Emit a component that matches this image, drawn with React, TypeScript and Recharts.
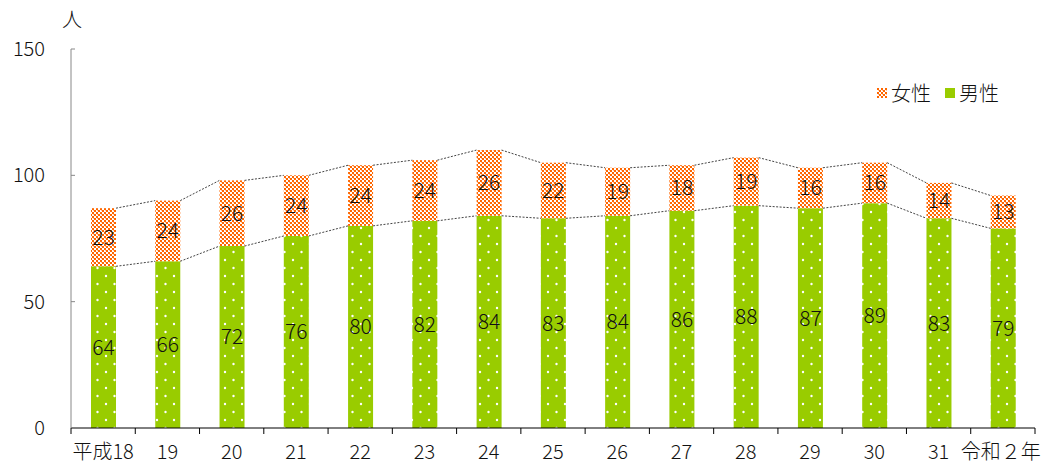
import React from "react";
import { BarChart, Bar, XAxis, YAxis, LabelList, Legend } from "recharts";

const years = ["平成18", "19", "20", "21", "22", "23", "24", "25", "26", "27", "28", "29", "30", "31", "令和２年"];
const male = [64, 66, 72, 76, 80, 82, 84, 83, 84, 86, 88, 87, 89, 83, 79];
const female = [23, 24, 26, 24, 24, 24, 26, 22, 19, 18, 19, 16, 16, 14, 13];
const yTicks = [0, 50, 100, 150];

const W = 1043;
const H = 465;
const MARGIN = { top: 49, right: 8, bottom: 7, left: 0 };
const Y_AXIS_W = 71;
const X_AXIS_H = 30;
const PLOT_W = W - MARGIN.left - MARGIN.right - Y_AXIS_W;
const STEP = PLOT_W / years.length;

const FONT = '"Noto Sans CJK JP", "Noto Sans", sans-serif';
const ORANGE = "#FF6600";
const GREEN = "#99CC00";
const TEXT = "#111";

const data = years.map((year, i) => ({ year, male: male[i], female: female[i] }));

// female bar + the dotted "series lines" to the next bar (like Excel)
const FemaleShape = (props: any) => {
  const { x, y, width, height, index } = props;
  const ppu = height / female[index];
  const base = y + height + male[index] * ppu;
  const next = index + 1;
  return (
    <g>
      <rect x={x} y={y} width={width} height={height} fill="url(#femalePat)" />
      {next < years.length && (
        <g stroke="#444" strokeWidth={1} strokeDasharray="2 1.5" fill="none">
          <line x1={x + width} y1={y} x2={x + STEP} y2={base - (male[next] + female[next]) * ppu} />
          <line x1={x + width} y1={y + height} x2={x + STEP} y2={base - male[next] * ppu} />
        </g>
      )}
    </g>
  );
};

const XTick = (props: any) => {
  const { x, y, payload, index } = props;
  const left = x - STEP / 2;
  return (
    <g>
      <line x1={left} y1={y} x2={left} y2={y + 6} stroke="#000" />
      {index === years.length - 1 && (
        <line x1={x + STEP / 2} y1={y} x2={x + STEP / 2} y2={y + 6} stroke="#000" />
      )}
      <text x={x - (index === years.length - 1 ? 2 : 0)} y={y + 31} textAnchor="middle" fontSize={20} fontWeight={300} fontFamily={FONT} fill={TEXT}>
        {payload.value}
      </text>
    </g>
  );
};

const YTick = (props: any) => {
  const { x, y, payload } = props;
  return (
    <g>
      {payload.value !== 0 && <line x1={x + 26} y1={y} x2={x + 30} y2={y} stroke="#888" />}
      <text x={x} y={y + 7} textAnchor="end" fontSize={20} fontWeight={300} fontFamily={FONT} fill={TEXT}>
        {payload.value}
      </text>
    </g>
  );
};

const LegendBox = () => (
  <div style={{ display: "flex", alignItems: "center", fontFamily: FONT, fontSize: 20, fontWeight: 300, color: TEXT }}>
    <svg width={10} height={10} style={{ marginRight: 4 }}>
      <rect x={0} y={0} width={10} height={10} fill="url(#femalePat)" />
    </svg>
    <span style={{ marginRight: 14 }}>女性</span>
    <svg width={10} height={10} style={{ marginRight: 4 }}>
      <rect x={0} y={0} width={10} height={10} fill={GREEN} />
    </svg>
    <span>男性</span>
  </div>
);

const UnitLabel = (props: any) => {
  const { viewBox } = props;
  return (
    <text x={viewBox.x + viewBox.width + 1} y={viewBox.y - 22} textAnchor="middle" fontSize={20} fontWeight={300} fontFamily={FONT} fill={TEXT}>
      人
    </text>
  );
};

export default function App() {
  return (
    <div style={{ position: "absolute", left: 0, top: 0, width: W, height: H, background: "#fff" }}>
      <svg width={0} height={0} style={{ position: "absolute" }}>
        <defs>
          <pattern id="femalePat" width={4} height={4} patternUnits="userSpaceOnUse">
            <rect width={4} height={4} fill="#fff" />
            <rect x={0} y={0} width={2} height={2} fill={ORANGE} />
            <rect x={2} y={2} width={2} height={2} fill={ORANGE} />
            <rect x={1} y={2} width={1} height={1} fill={ORANGE} opacity={0.4} />
          </pattern>
          <pattern id="malePat" width={17} height={16} patternUnits="userSpaceOnUse">
            <rect width={17} height={16} fill={GREEN} />
            <circle cx={4} cy={4} r={1.2} fill="#fff" />
            <circle cx={12.5} cy={12} r={1.2} fill="#fff" />
          </pattern>
        </defs>
      </svg>
      <BarChart width={W} height={H} data={data} margin={MARGIN} barSize={25}>
        <XAxis
          dataKey="year"
          height={X_AXIS_H}
          interval={0}
          tickLine={false}
          tickSize={0}
          tickMargin={0}
          axisLine={{ stroke: "#000" }}
          tick={<XTick />}
        />
        <YAxis
          width={Y_AXIS_W}
          domain={[0, 150]}
          ticks={yTicks}
          tickLine={false}
          tickSize={0}
          tickMargin={26}
          axisLine={{ stroke: "#888" }}
          tick={<YTick />}
          label={<UnitLabel />}
        />
        <Legend
          layout="vertical"
          align="center"
          verticalAlign="middle"
          wrapperStyle={{ top: 78, left: 877, width: 140 }}
          content={<LegendBox />}
        />
        <Bar dataKey="male" name="男性" stackId="a" fill="url(#malePat)" isAnimationActive={false}>
          <LabelList dataKey="male" position="center" fontSize={21} fontWeight={300} fontFamily={FONT} fill={TEXT} />
        </Bar>
        <Bar dataKey="female" name="女性" stackId="a" fill="url(#femalePat)" shape={<FemaleShape />} isAnimationActive={false}>
          <LabelList dataKey="female" position="center" fontSize={21} fontWeight={300} fontFamily={FONT} fill={TEXT} />
        </Bar>
      </BarChart>
    </div>
  );
}
